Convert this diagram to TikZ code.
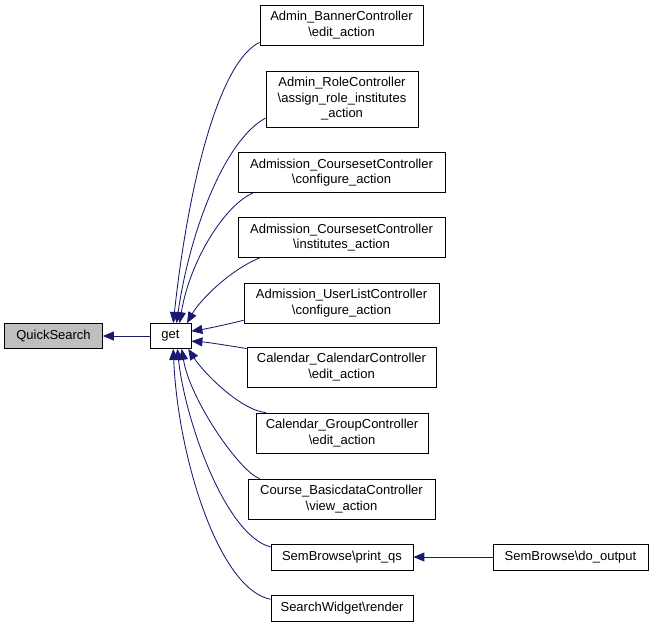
\documentclass[tikz,border=0pt]{standalone}
\usepackage{fontspec}
\setmainfont{Liberation Sans}
\usetikzlibrary{arrows.meta}
\definecolor{edgeblue}{HTML}{191970}
\definecolor{boxgray}{HTML}{BFBFBF}
\begin{document}
\begin{tikzpicture}[x=1bp,y=-1bp,
  box/.style={draw=black, line width=0.8bp, fill=white, inner sep=0pt, align=center,
    font=\fontsize{13bp}{15.5bp}\selectfont},
  edge/.style={draw=edgeblue, line width=0.85bp, -{Triangle[length=11bp,width=9bp]}, fill=none}]
\useasboundingbox (0,0) rectangle (653,627);
\node[box, fill=boxgray, minimum width=98bp, minimum height=25bp] (qs) at (53.5,336) {QuickSearch};
\node[box, minimum width=41bp, minimum height=25bp] (get) at (170.5,336) {get};
\node[box, minimum width=163bp, minimum height=40bp] (banner) at (341.5,25) {Admin\_BannerController\\\textbackslash edit\_action};
\node[box, minimum width=152bp, minimum height=56bp] (role) at (342,99) {Admin\_RoleController\\\textbackslash assign\_role\_institutes\\\_action};
\node[box, minimum width=207bp, minimum height=40bp] (conf) at (341.5,172.5) {Admission\_CoursesetController\\\textbackslash configure\_action};
\node[box, minimum width=207bp, minimum height=40bp] (inst) at (341.5,237.5) {Admission\_CoursesetController\\\textbackslash institutes\_action};
\node[box, minimum width=195bp, minimum height=40bp] (ulist) at (341.5,303) {Admission\_UserListController\\\textbackslash configure\_action};
\node[box, minimum width=189bp, minimum height=40bp] (calcal) at (341.5,367) {Calendar\_CalendarController\\\textbackslash edit\_action};
\node[box, minimum width=172bp, minimum height=40bp] (calgrp) at (342,433) {Calendar\_GroupController\\\textbackslash edit\_action};
\node[box, minimum width=187bp, minimum height=40bp] (basic) at (341.5,499) {Course\_BasicdataController\\\textbackslash view\_action};
\node[box, minimum width=142bp, minimum height=26bp] (printqs) at (342,557) {SemBrowse\textbackslash print\_qs};
\node[box, minimum width=155bp, minimum height=26bp] (doout) at (570.5,557) {SemBrowse\textbackslash do\_output};
\node[box, minimum width=142bp, minimum height=26bp] (sw) at (342,608) {SearchWidget\textbackslash render};

\draw[edge] (get) -- (qs);
\draw[edge] (doout) -- (printqs);
\draw[edge] (banner.192.5) .. controls (222,60) and (190,170) .. (get.78);
\draw[edge] (role.194) .. controls (225,140) and (190,230) .. (get.65);
\draw[edge] (conf.193.2) .. controls (225,205) and (190,260) .. (get.55);
\draw[edge] (inst.194.5) .. controls (230,270) and (200,300) .. (get.38);
\draw[edge] (ulist.190.5) .. controls (225,325) and (205,329) .. (get.13.7);
\draw[edge] (calcal.169.8) .. controls (225,345) and (205,342) .. (get.346.3);
\draw[edge] (calgrp.165.4) .. controls (240,410) and (203,372) .. (get.324);
\draw[edge] (basic.166.5) .. controls (240,472) and (190,400) .. (get.311);
\draw[edge] (printqs.172.8) .. controls (225,535) and (185,420) .. (get.298.4);
\draw[edge] (sw.173.6) .. controls (220,590) and (178,460) .. (get.282);
\end{tikzpicture}
\end{document}
